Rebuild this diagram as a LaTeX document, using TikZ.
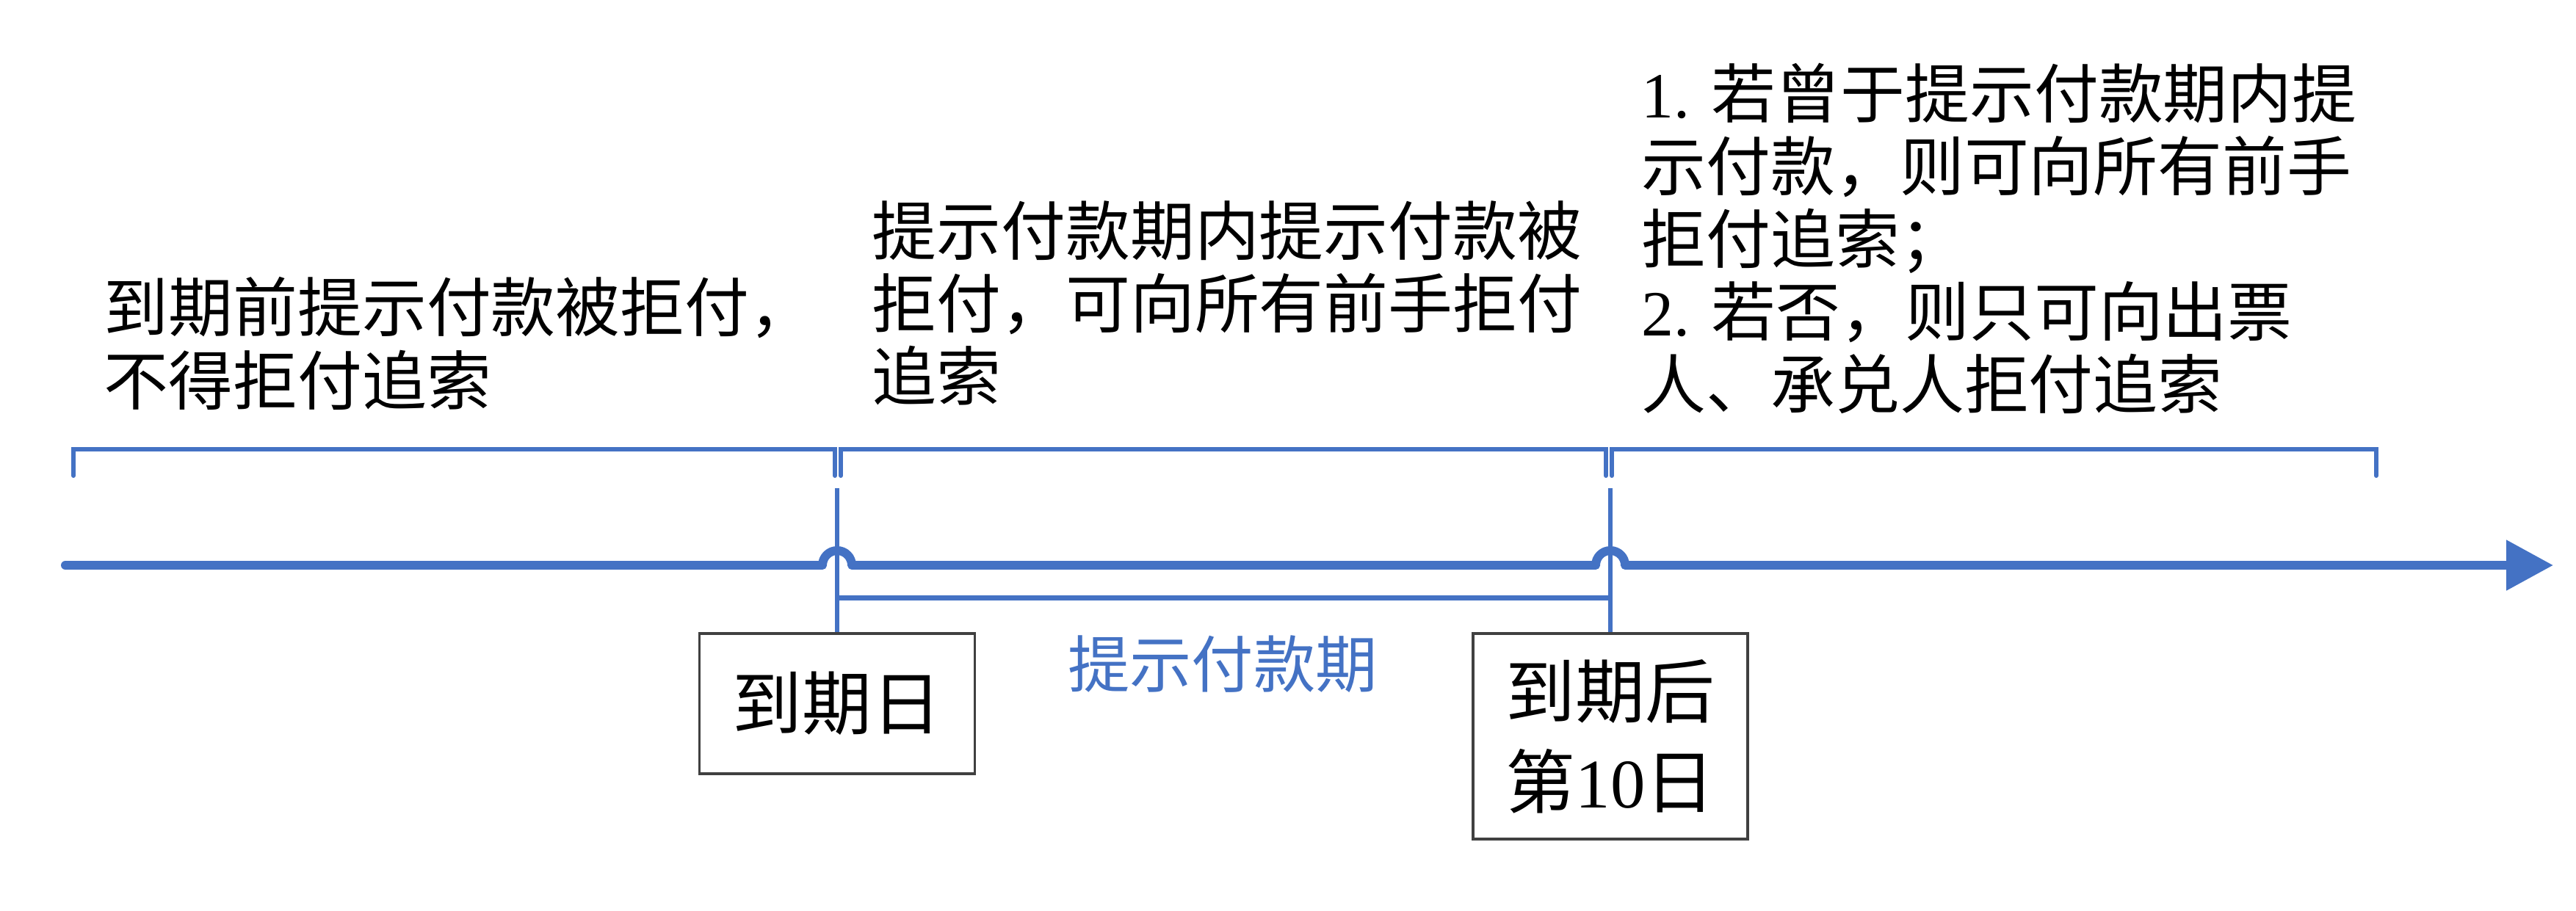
\documentclass[tikz,border=0pt]{standalone}
\usepackage{fontspec}
\usepackage{tikz}
\usetikzlibrary{arrows.meta, positioning, calc}
\newfontfamily\cjk{Noto Sans CJK SC}
\newfontfamily\latn{Liberation Serif}
\definecolor{timeline}{RGB}{68, 114, 196}
\definecolor{boxline}{RGB}{64, 64, 64}

\begin{document}
\begin{tikzpicture}[
    axis/.style={timeline, line width=3.4pt, line cap=round, line join=round},
    brace/.style={timeline, line width=1.7pt, line cap=round},
    tick/.style={timeline, line width=1.9pt},
    datebox/.style={draw=boxline, line width=0.9pt, inner sep=0pt, align=center,
        font=\cjk\fontsize{27}{35}\selectfont},
    note/.style={anchor=west, inner sep=0pt, align=left,
        font=\cjk\fontsize{25}{28.2}\selectfont}
]
    \useasboundingbox (0,0) rectangle (35.08,12.40);

    % dates
    \node[datebox, minimum width=3.75cm, minimum height=1.91cm] (due) at (11.40,2.815) {到期日};
    \node[datebox, minimum width=3.74cm, minimum height=2.80cm] (tenth) at (21.93,2.37) {到期后\\第{\latn 10}日};

    % time axis, hopping over the ticks
    \coordinate (start) at (0.89,4.70);
    \coordinate (end) at (34.77,4.70);
    \coordinate (hopA) at (start -| due.north);
    \coordinate (hopB) at (start -| tenth.north);
    \draw[axis, -{Triangle[length=0.64cm, width=0.66cm]}] (start)
        -- ([xshift=-0.2cm]hopA) arc[start angle=180, end angle=0, radius=0.2cm]
        -- ([xshift=-0.2cm]hopB) arc[start angle=180, end angle=0, radius=0.2cm]
        -- (end);

    % ticks
    \coordinate (dueTop) at ($(due.north)+(0,1.96)$);
    \coordinate (tenthTop) at ($(tenth.north)+(0,1.96)$);
    \draw[tick] (dueTop) -- (due.north);
    \draw[tick] (tenthTop) -- (tenth.north);

    % presentment period
    \coordinate (periodL) at ($(due.north)+(0,0.47)$);
    \coordinate (periodR) at ($(tenth.north)+(0,0.47)$);
    \draw[tick] (periodL) -- (periodR);
    \node[timeline, inner sep=0pt, font=\cjk\fontsize{24}{28}\selectfont] (period) at (16.65,3.35) {提示付款期};

    % brackets
    \draw[brace] (1.00,5.92) |- (11.37,6.28) -- (11.37,5.92);
    \draw[brace] (11.45,5.92) |- (21.87,6.28) -- (21.87,5.92);
    \draw[brace] (21.95,5.92) |- (32.36,6.28) -- (32.36,5.92);

    % notes
    \node[note] (before) at (1.41,7.72) {到期前提示付款被拒付，\\不得拒付追索};
    \node[note] (within) at (11.87,8.27) {提示付款期内提示付款被\\拒付，可向所有前手拒付\\追索};
    \node[note] (after) at (22.35,9.15) {{\latn 1. }若曾于提示付款期内提\\示付款，则可向所有前手\\拒付追索；\\{\latn 2. }若否，则只可向出票\\人、承兑人拒付追索};
\end{tikzpicture}
\end{document}
